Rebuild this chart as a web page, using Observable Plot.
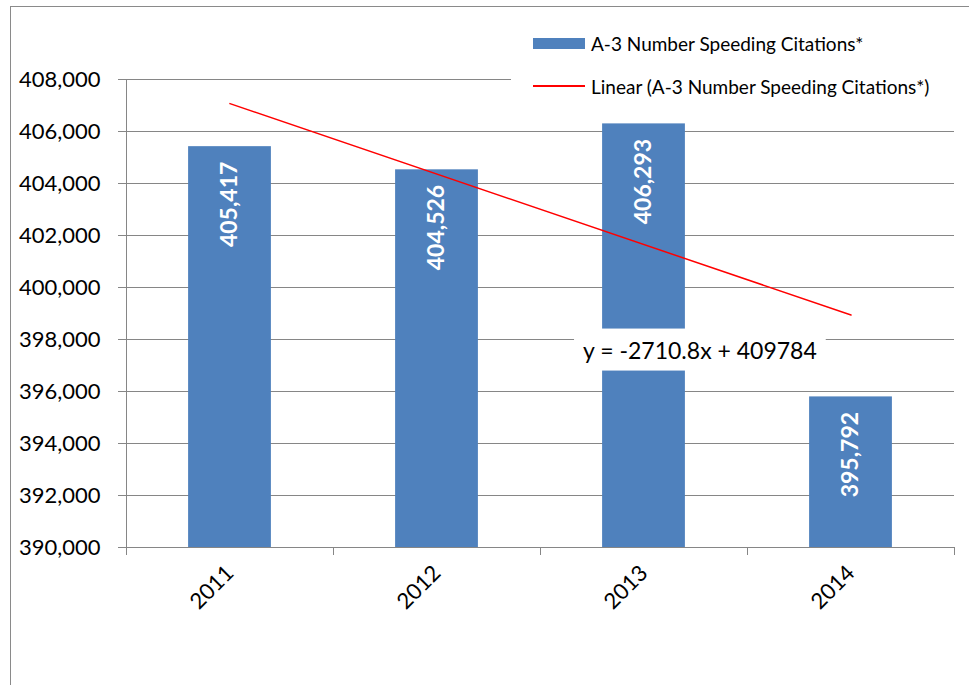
<!DOCTYPE html>
<html>
<head>
<meta charset="utf-8">
<script src="https://cdn.jsdelivr.net/npm/d3@7"></script>
<script src="https://cdn.jsdelivr.net/npm/@observablehq/plot@0.6"></script>
<style>
  body { margin: 0; background: #fff; overflow: hidden; font-family: Lato, sans-serif; }
  #wrap { position: relative; width: 969px; height: 685px; overflow: hidden; background: #fff; }
  #wrap svg { position: absolute; left: 0; top: 0; background: transparent; }
  #frame { position: absolute; left: 10px; top: 6px; width: 2000px; height: 2000px;
           border: 1px solid #8a8a8a; pointer-events: none; }
  #legend { position: absolute; left: 511px; top: 24px; width: 445px; height: 96px; background: #fff; }
  .item { position: absolute; left: 22px; height: 24px; display: flex; align-items: center;
          font-size: 19px; color: #000; white-space: nowrap; }
  .swatch { width: 52px; margin-right: 6px; }
</style>
</head>
<body>
<div id="wrap">
  <div id="chart"></div>
  <div id="legend">
    <div class="item" style="top:7px"><span class="swatch" style="height:11px;background:#4F81BD"></span><span id="lg1"></span></div>
    <div class="item" style="top:50px"><span class="swatch" style="height:1.5px;background:#FF0000"></span><span id="lg2"></span></div>
  </div>
  <div id="frame"></div>
</div>
<script>
// Annual speeding citations (A-3)
const years = ["2011", "2012", "2013", "2014"];
const citations = [405417, 404526, 406293, 395792];
const yTicks = [390000, 392000, 394000, 396000, 398000, 400000, 402000, 404000, 406000, 408000];
const seriesName = "A-3 Number Speeding Citations*";
const trendName = "Linear (A-3 Number Speeding Citations*)";
// Excel linear trendline: y = slope * n + intercept, n = 1..4
const trendSlope = -2710.8;
const trendIntercept = 409784;
const equationLabel = "y = -2710.8x + 409784";

const fmt = d3.format(",");
const rows = years.map((year, i) => ({year, i, value: citations[i]}));
const trend = [1, years.length].map(n => ({x: n - 0.5, y: trendSlope * n + trendIntercept}));
const boundaries = d3.range(years.length + 1);
const centers = years.map((_, i) => i + 0.5);
const grey = "#868686";

const plot = Plot.plot({
  width: 969,
  height: 685,
  marginLeft: 126,
  marginRight: 15,
  marginTop: 79,
  marginBottom: 138,
  style: {fontFamily: "Lato, sans-serif", fontSize: "22px", color: "#000", background: "transparent"},
  x: {type: "linear", domain: [0, years.length]},
  y: {domain: [yTicks[0], yTicks[yTicks.length - 1]]},
  marks: [
    Plot.gridY(yTicks, {stroke: grey, strokeOpacity: 1}),
    Plot.rectY(rows, {x1: d => d.i + 0.3, x2: d => d.i + 0.7, y1: yTicks[0], y2: "value", fill: "#4F81BD"}),
    Plot.ruleX([0], {stroke: grey}),
    Plot.ruleY([yTicks[0]], {stroke: grey}),
    Plot.axisY({ticks: yTicks, tickSize: 8, tickPadding: 18, tickFormat: fmt, stroke: grey, fill: "#000", fontSize: 22, label: null}),
    Plot.axisX({ticks: boundaries, tickSize: 8, tickFormat: () => "", stroke: grey, label: null}),
    Plot.axisX({ticks: centers, tickSize: 0, tickPadding: 22, tickRotate: -45,
                tickFormat: d => years[Math.floor(d)], fill: "#000", fontSize: 22, label: null}),
    Plot.line(trend, {x: "x", y: "y", stroke: "#FF0000", strokeWidth: 1.5}),
    Plot.text(rows, {x: d => d.i + 0.5, y: "value", text: d => fmt(d.value), rotate: -90,
                     textAnchor: "end", dy: 15, fill: "white", fontWeight: "bold", fontSize: 23}),
    Plot.text([equationLabel], {x: 2.77, y: 397550, text: d => d, fontSize: 23, fill: "#000"})
  ]
});

document.getElementById("chart").append(plot);
document.getElementById("lg1").textContent = seriesName;
document.getElementById("lg2").textContent = trendName;

// White box behind the trendline equation, sized from the rendered text
const eq = Array.from(plot.querySelectorAll("text")).find(t => t.textContent === equationLabel);
if (eq) {
  const svgBox = plot.getBoundingClientRect();
  const tb = eq.getBoundingClientRect();
  const rect = document.createElementNS("http://www.w3.org/2000/svg", "rect");
  rect.setAttribute("x", tb.left - svgBox.left - 9);
  rect.setAttribute("y", tb.top - svgBox.top - 7);
  rect.setAttribute("width", tb.width + 18);
  rect.setAttribute("height", tb.height + 14);
  rect.setAttribute("fill", "#ffffff");
  const g = eq.parentNode;
  g.parentNode.insertBefore(rect, g);
}
</script>
</body>
</html>
